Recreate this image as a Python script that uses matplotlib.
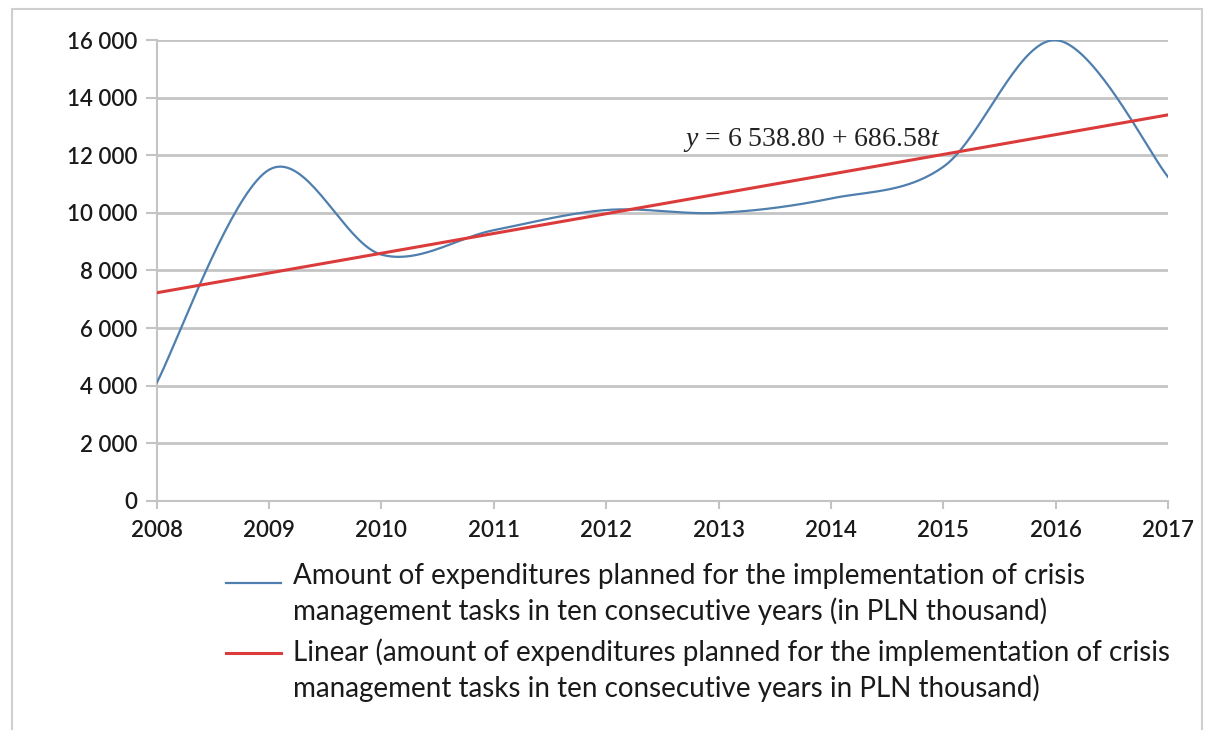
import numpy as np
import matplotlib.pyplot as plt
from matplotlib.lines import Line2D
from matplotlib.patches import Rectangle
from matplotlib.ticker import FuncFormatter

years = [2008, 2009, 2010, 2011, 2012, 2013, 2014, 2015, 2016, 2017]
expenditures = [4100, 11500, 8550, 9400, 10100, 10000, 10500, 11600, 16000, 11250]
trend_a = 6538.80
trend_b = 686.58

label_exp = ("Amount of expenditures planned for the implementation of crisis\n"
             "management tasks in ten consecutive years (in PLN thousand)")
label_lin = ("Linear (amount of expenditures planned for the implementation of crisis\n"
             "management tasks in ten consecutive years in PLN thousand)")

plt.rcParams['font.family'] = ['Lato', 'DejaVu Sans']
plt.rcParams['mathtext.fontset'] = 'custom'
plt.rcParams['mathtext.it'] = 'Liberation Serif:italic'
plt.rcParams['mathtext.rm'] = 'Liberation Serif'


def smooth(x, y, n=40):
    # Excel-like smoothed line: Catmull-Rom style cubic Bezier segments
    x = np.asarray(x, float)
    y = np.asarray(y, float)
    px = np.concatenate([[x[0]], x, [x[-1]]])
    py = np.concatenate([[y[0]], y, [y[-1]]])
    xs, ys = [], []
    t = np.linspace(0, 1, n)
    for i in range(len(x) - 1):
        p0 = np.array([px[i + 1], py[i + 1]])
        p3 = np.array([px[i + 2], py[i + 2]])
        c1 = p0 + (np.array([px[i + 2], py[i + 2]]) - np.array([px[i], py[i]])) / 6
        c2 = p3 - (np.array([px[i + 3], py[i + 3]]) - np.array([px[i + 1], py[i + 1]])) / 6
        b = ((1 - t) ** 3)[:, None] * p0 + (3 * (1 - t) ** 2 * t)[:, None] * c1 \
            + (3 * (1 - t) * t ** 2)[:, None] * c2 + (t ** 3)[:, None] * p3
        xs.extend(b[:, 0])
        ys.extend(b[:, 1])
    return np.array(xs), np.array(ys)


fig = plt.figure(figsize=(12.06, 7.30), dpi=100)
ax = fig.add_axes([0.130, 0.314, 0.8385, 0.631])

sx, sy = smooth(years, expenditures)
ax.plot(sx, sy, color='#4f7fae', lw=1.6, zorder=3)

t_idx = np.arange(1, len(years) + 1)
trend = trend_a + trend_b * t_idx
ax.plot(years, trend, color='#db3b3b', lw=2.2, zorder=4)

ax.text(2013.83, 12530, r"$y$ = 6 538.80 + 686.58$t$", fontsize=20,
        family='Liberation Serif', ha='center', va='center', color='#222222')

ax.set_xlim(2008, 2017)
ax.set_ylim(0, 16000)
ax.set_xticks(years)
ax.set_yticks(range(0, 16001, 2000))
ax.yaxis.set_major_formatter(FuncFormatter(lambda v, p: f"{int(v):,}".replace(",", " ")))
ax.grid(axis='y', color='#c4c4c4', lw=2)
ax.set_axisbelow(True)
for s in ['top', 'right']:
    ax.spines[s].set_visible(False)
ax.spines['left'].set_color('#c4c4c4')
ax.spines['bottom'].set_color('#c4c4c4')
ax.spines['left'].set_linewidth(1.5)
ax.spines['bottom'].set_linewidth(1.5)
ax.tick_params(axis='y', length=8, color='#c4c4c4', width=1.5, labelsize=16, pad=6, labelcolor='#1a1a1a')
ax.tick_params(axis='x', length=6, color='#c4c4c4', width=1.5, labelsize=16, pad=8, labelcolor='#1a1a1a')
for lab in ax.get_xticklabels() + ax.get_yticklabels():
    lab.set_fontweight('semibold')

# legend drawn below the plot
fig.add_artist(Line2D([0.187, 0.233], [1 - 583 / 730] * 2, color='#4f7fae', lw=1.6,
                      transform=fig.transFigure))
fig.add_artist(Line2D([0.187, 0.233], [1 - 653 / 730] * 2, color='#db3b3b', lw=2.2,
                      transform=fig.transFigure))
fig.text(0.243, 1 - 594 / 730, label_exp, fontsize=20, va='center', ha='left',
         color='#1a1a1a', linespacing=1.35)
fig.text(0.243, 1 - 670 / 730, label_lin, fontsize=20, va='center', ha='left',
         color='#1a1a1a', linespacing=1.35)

fig.add_artist(Rectangle((12 / 1206, -0.05), 1190 / 1206, 1.05 - 9 / 730, fill=False,
                         edgecolor='#cfcfcf', lw=1.5, transform=fig.transFigure))

fig.savefig('out.png', dpi=100)
